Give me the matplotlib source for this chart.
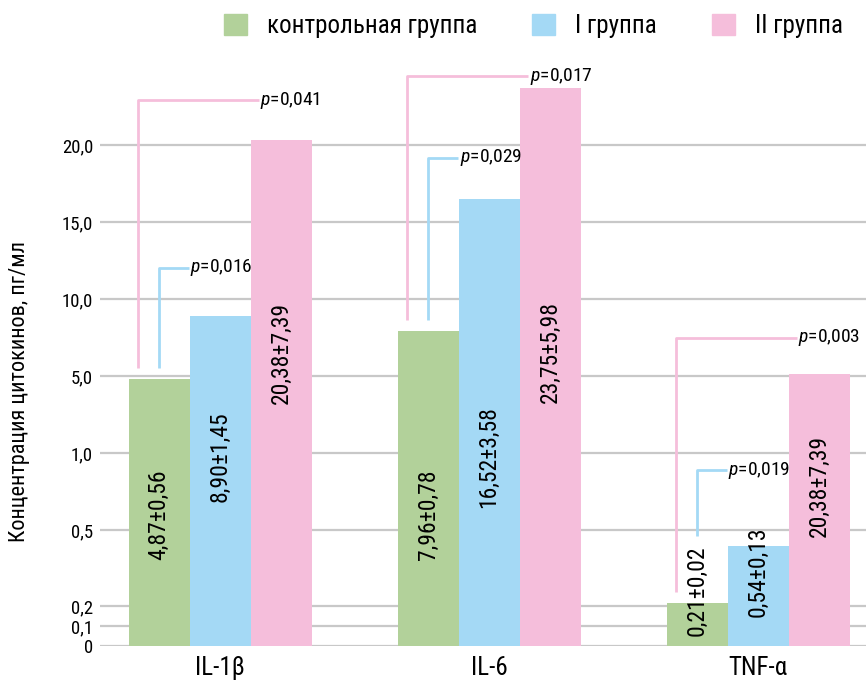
import numpy as np
import matplotlib
matplotlib.use("Agg")
import matplotlib.pyplot as plt
from matplotlib.patches import Patch
from matplotlib.ticker import FixedLocator, FixedFormatter

plt.rcParams['font.family'] = ['Roboto Condensed', 'DejaVu Sans']
plt.rcParams['mathtext.fontset'] = 'custom'
plt.rcParams['mathtext.rm'] = 'Roboto Condensed'
plt.rcParams['mathtext.it'] = 'Roboto Condensed:italic'

# data
categories = ["IL-1β", "IL-6", "TNF-α"]
series = ["контрольная группа", "I группа", "II группа"]
control = [4.87, 7.96, 0.21]
group1 = [8.90, 16.52, 0.44]
group2 = [20.38, 23.75, 5.15]
control_lbl = ["4,87±0,56", "7,96±0,78", "0,21±0,02"]
group1_lbl = ["8,90±1,45", "16,52±3,58", "0,54±0,13"]
group2_lbl = ["20,38±7,39", "23,75±5,98", "20,38±7,39"]
p_group1 = ["0,016", "0,029", "0,019"]
p_group2 = ["0,041", "0,017", "0,003"]

tick_vals = [0, 0.1, 0.2, 0.5, 1, 5, 10, 15, 20]
tick_lbls = ["0", "0,1", "0,2", "0,5", "1,0", "5,0", "10,0", "15,0", "20,0"]

colors = ["#b2d19a", "#a4d9f5", "#f5bedb"]

# piecewise axis (как в исходнике)
scale_vals = [0, 0.1, 0.2, 0.5, 1, 5, 10, 15, 20, 45]
scale_pos = [0, 0.26, 0.52, 1.5, 2.5, 3.5, 4.5, 5.5, 6.5, 11.5]

def fwd(y):
    return np.interp(y, scale_vals, scale_pos)

def inv(p):
    return np.interp(p, scale_pos, scale_vals)

fig = plt.figure(figsize=(8.66, 6.92), dpi=100)
ax = fig.add_axes([100 / 866, 46 / 692, 766 / 866, 586 / 692])
ax.set_yscale('function', functions=(fwd, inv))
ax.set_ylim(0, 25.55)

px = 269.0  # pixels per category
w = 61 / px
x = np.arange(len(categories))
xl = -(220 - 100) / px
ax.set_xlim(xl, xl + 766 / px)

data = [control, group1, group2]
labels = [control_lbl, group1_lbl, group2_lbl]
for i in range(3):
    ax.bar(x + (i - 1) * w, data[i], width=w, color=colors[i], zorder=3, label=series[i])

# value labels inside bars
lbl_y = [[0.6, 0.6, 0.259], [0.98, 0.98, 0.335], [6.5, 6.59, 0.79]]
for i in range(3):
    for j in range(3):
        ax.text(x[j] + (i - 1) * w, lbl_y[i][j], labels[i][j], rotation=90,
                ha='center', va='center', fontsize=17, zorder=4)

# p-value brackets
line_bottom = [5.55, 8.67, 0.255]
line_bottom_b = [5.55, 8.67, 0.48]
top_pink = [22.95, 24.5, 7.5]
top_blue = [12.05, 19.2, 0.89]
for j in range(3):
    left = x[j] - 1.5 * w
    # pink: control vs II
    xp = left + 9 / px
    xt = x[j] + 0.5 * w + 10 / px
    ax.plot([xp, xp, xt - 2 / px], [line_bottom[j], top_pink[j], top_pink[j]],
            color=colors[2], lw=2, zorder=2, clip_on=False, solid_capstyle='butt')
    ax.text(xt, top_pink[j], "$p$=" + p_group2[j], ha='left', va='center',
            fontsize=14, zorder=5, clip_on=False)
    # blue: control vs I
    xb = left + 30 / px
    xt = x[j] - 0.5 * w + 1 / px
    ax.plot([xb, xb, xt - 2 / px], [line_bottom_b[j], top_blue[j], top_blue[j]],
            color=colors[1], lw=2, zorder=2, clip_on=False, solid_capstyle='butt')
    ax.text(xt, top_blue[j], "$p$=" + p_group1[j], ha='left', va='center',
            fontsize=14, zorder=5)

ax.yaxis.set_major_locator(FixedLocator(tick_vals))
ax.yaxis.set_major_formatter(FixedFormatter(tick_lbls))
ax.yaxis.set_minor_locator(FixedLocator([]))
ax.grid(axis='y', color='#c8c8c8', lw=1.6, zorder=1)
ax.set_xticks(x)
ax.set_xticklabels(categories, fontsize=18)
ax.tick_params(axis='both', length=0)
ax.tick_params(axis='y', labelsize=13.5, pad=5)
ax.tick_params(axis='x', pad=7)
for s in ax.spines.values():
    s.set_visible(False)

fig.text(20 / 866, 1 - 391 / 692, "Концентрация цитокинов, пг/мл", rotation=90,
         ha='center', va='center', fontsize=16)

handles = [Patch(color=c) for c in colors]
fig.legend(handles, series, loc='center left', bbox_to_anchor=(224 / 866, 1 - 26 / 692),
           ncol=3, frameon=False, fontsize=18, handlelength=0.92, handleheight=0.92,
           handletextpad=0.8, columnspacing=2.2, borderpad=0, borderaxespad=0)

fig.savefig("out.png", dpi=100)
